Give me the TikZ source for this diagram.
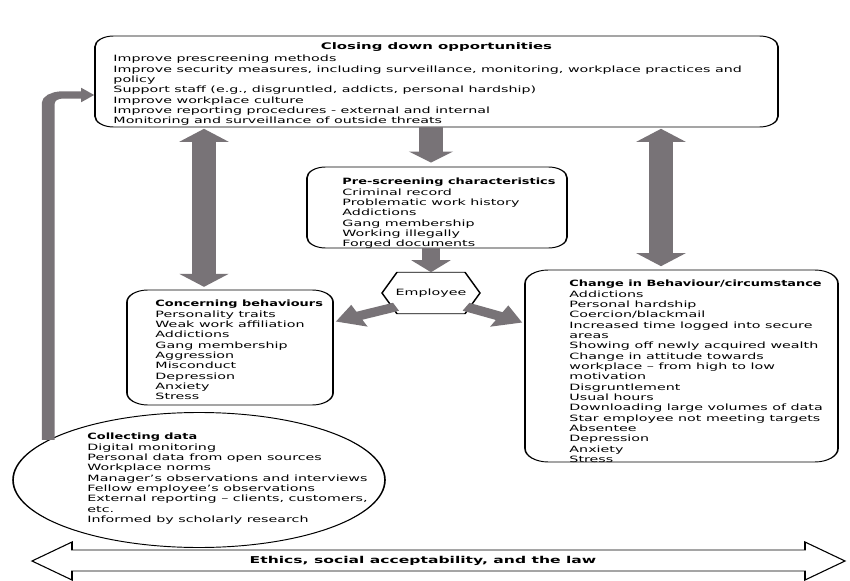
\documentclass[tikz,border=0pt]{standalone}
\usepackage{fontspec}
\setmainfont{DejaVu Sans}[FakeStretch=0.94]
\newfontfamily\ttlfont{DejaVu Sans}[FakeStretch=0.85,UprightFont={* Bold}]
\newcommand\tb[1]{{\ttlfont #1}}
\usetikzlibrary{arrows.meta,calc,shapes.geometric}
\definecolor{arrowgray}{RGB}{120,115,119}
\begin{document}
\begin{tikzpicture}
\fill[white] (0,0) rectangle (637.5pt,-435.75pt);
\useasboundingbox (0,0) rectangle (637.5pt,-435.75pt);
\begin{scope}[transform canvas={xscale=1.75}, x=0.428571pt, y=-0.75pt,
  box/.style={draw, line width=0.7pt, rounded corners=8pt, inner sep=0pt},
  txt/.style={font=\fontsize{6.5}{7.75}\selectfont, align=left, inner sep=0pt, anchor=north west},
  ttl/.style={font=\fontsize{6.8}{7.75}\selectfont\bfseries, inner sep=0pt},
  blk/.style={draw=arrowgray, line width=#1}]
% boxes
\node[box, minimum width=292.7pt, minimum height=68.25pt] (top) at (436.5,81.5) {};
\node[box, minimum width=111.4pt, minimum height=60.75pt] (pre) at (437,207.5) {};
\node[box, rounded corners=9pt, minimum width=88.3pt, minimum height=86.25pt] (conc) at (230,347.5) {};
\node[box, rounded corners=10pt, minimum width=134.1pt, minimum height=144pt] (change) at (681.5,366) {};
\node[draw, ellipse, line width=0.7pt, inner sep=0pt, minimum width=159.4pt, minimum height=101.25pt] (collect) at (199,480) {};
\node[inner sep=0pt, minimum width=41.6pt, minimum height=30.75pt, font=\fontsize{6.5}{7.75}\selectfont] (emp) at (431,293) {Employee};
\draw[line width=0.7pt] (emp.west) -- ($(emp.north west)+(15,0)$) -- ($(emp.north east)+(-15,0)$) -- (emp.east) -- ($(emp.south east)+(-15,0)$) -- ($(emp.south west)+(15,0)$) -- cycle;
% texts
\node[ttl] (toptitle) at ($(top.north)+(0,12)$) {Closing down opportunities};
\node[txt] (toptext) at (113,55) {Improve prescreening methods\\
Improve security measures, including surveillance, monitoring, workplace practices and\\
policy\\
Support staff (e.g., disgruntled, addicts, personal hardship)\\
Improve workplace culture\\
Improve reporting procedures - external and internal\\
Monitoring and surveillance of outside threats};
\node[txt] (pretext) at (342,178) {\tb{Pre-screening characteristics}\\
Criminal record\\
Problematic work history\\
Addictions\\
Gang membership\\
Working illegally\\
Forged documents};
\node[txt] (conctext) at (155,300) {\tb{Concerning behaviours}\\
Personality traits\\
Weak work affiliation\\
Addictions\\
Gang membership\\
Aggression\\
Misconduct\\
Depression\\
Anxiety\\
Stress};
\node[txt] (changetext) at (569,280) {\tb{Change in Behaviour/circumstance}\\
Addictions\\
Personal hardship\\
Coercion/blackmail\\
Increased time logged into secure\\
areas\\
Showing off newly acquired wealth\\
Change in attitude towards\\
workplace – from high to low\\
motivation\\
Disgruntlement\\
Usual hours\\
Downloading large volumes of data\\
Star employee not meeting targets\\
Absentee\\
Depression\\
Anxiety\\
Stress};
\node[txt] (collecttext) at (87,433) {\tb{Collecting data}\\
Digital monitoring\\
Personal data from open sources\\
Workplace norms\\
Manager’s observations and interviews\\
Fellow employee’s observations\\
External reporting – clients, customers,\\
etc.\\
Informed by scholarly research};
% block arrows
\draw[blk=10.7pt, -{Triangle[length=8.25pt,width=18.4pt]}, shorten >=3pt] (top.south -| emp.north) -- (pre.north -| emp.north);
\draw[blk=7.7pt, -{Triangle[length=9pt,width=16.3pt]}] (pre.south -| emp.north) -- (emp.north);
\coordinate (lc) at ($(conc.north)+(-26,0)$);
\draw[blk=10.3pt, {Triangle[length=9.75pt,width=20.6pt]}-{Triangle[length=9.75pt,width=20.6pt]}, shorten >=2pt, shorten <=1pt] (lc |- top.south) -- (lc);
\coordinate (rc) at ($(change.north)+(-20.5,0)$);
\draw[blk=10.7pt, {Triangle[length=9.75pt,width=20.6pt]}-{Triangle[length=9.75pt,width=20.6pt]}, shorten >=2.5pt, shorten <=1pt] (rc |- top.south) -- (rc);
\draw[blk=6.5pt, -{Triangle[length=11pt,width=17pt]}] ($(emp.south west)+(14,-7)$) -- ($(conc.north east)+(2,32)$);
\draw[blk=6.5pt, -{Triangle[length=11pt,width=17pt]}] ($(emp.south east)+(-14,-7)$) -- ($(change.north west)+(-2,53)$);
\coordinate (ltgt) at ($(top.west)+(0,13.5)$);
\draw[blk=5.5pt, rounded corners=6pt, -{Triangle[length=5.6pt,width=10.5pt]}] (collect.155) |- (ltgt);
% bottom double arrow
\draw[line width=0.7pt] (32,561) -- (72,542) -- (72,550) -- (805,550) -- (805,542) -- (845,561) -- (805,580) -- (805,571) -- (72,571) -- (72,580) -- cycle;
\node[inner sep=0pt, font=\fontsize{7.1}{9}\selectfont\bfseries] (law) at (423,561) {Ethics, social acceptability, and the law};
\end{scope}
\end{tikzpicture}
\end{document}
